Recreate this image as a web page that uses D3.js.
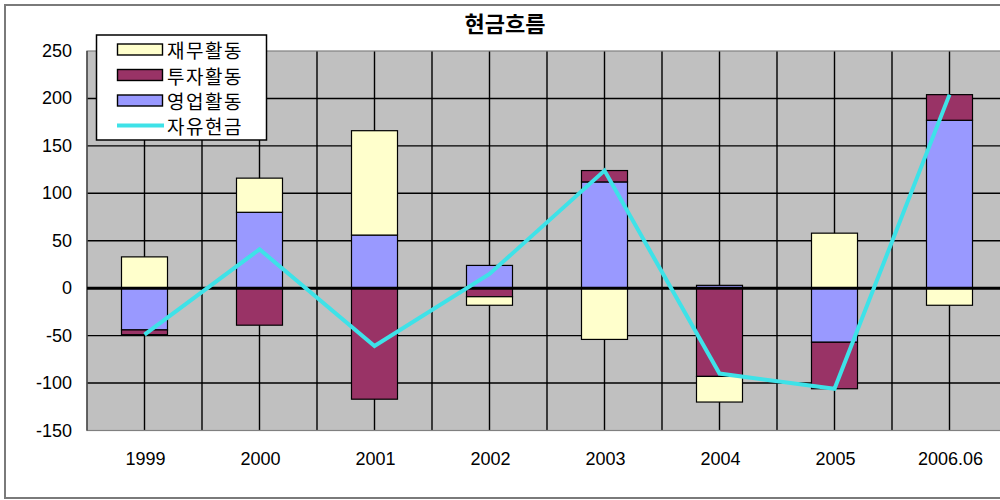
<!DOCTYPE html>
<html>
<head>
<meta charset="utf-8">
<script src="https://cdn.jsdelivr.net/npm/d3@7"></script>
<style>
  html, body { margin: 0; padding: 0; background: #fff; }
  svg { display: block; }
</style>
</head>
<body>
<svg id="chart" width="1000" height="500"></svg>
<script>
// Periods on the x axis
const categories = ["1999", "2000", "2001", "2002", "2003", "2004", "2005", "2006.06"];

// Cash flow components (stacked columns)
const operating = [-44, 80, 56, 24, 112, 3, -57, 177];   // 영업활동
const investing = [-5, -39, -117, -9, 12, -93, -49, 27]; // 투자활동
const financing = [33, 36, 110, -9, -54, -27, 58, -18];  // 재무활동

// Free cash flow (line)
const freeCash = [-49, 41, -61, 15, 124, -90, -106, 204]; // 자유현금

// Value axis ticks
const yTicks = [250, 200, 150, 100, 50, 0, -50, -100, -150];

const seriesNames = ["영업활동", "투자활동", "재무활동"];
const seriesValues = [operating, investing, financing];
const seriesColors = ["#9999ff", "#993366", "#ffffcc"];
const lineColor = "#3ee2e8";

const svg = d3.select("#chart");

// Chart frame
svg.append("rect")
  .attr("x", 5).attr("y", 5).attr("width", 1010).attr("height", 493)
  .attr("fill", "#fff").attr("stroke", "#7a7a7a").attr("stroke-width", 2);

const x = d3.scaleBand().domain(categories).range([87, 1007]).paddingInner(0).paddingOuter(0);
const y = d3.scaleLinear().domain([-150, 250]).range([430.5, 51]);

const plot = svg.append("g");

// Plot background
plot.append("rect")
  .attr("x", 87).attr("y", y(250))
  .attr("width", 1007 - 87).attr("height", y(-150) - y(250))
  .attr("fill", "#c0c0c0");

// Vertical gridlines at every half category
const halfSteps = d3.range(1, categories.length * 2);
plot.selectAll("line.vgrid").data(halfSteps).join("line")
  .attr("class", "vgrid")
  .attr("x1", d => 87 + d * x.bandwidth() / 2)
  .attr("x2", d => 87 + d * x.bandwidth() / 2)
  .attr("y1", y(250)).attr("y2", y(-150))
  .attr("stroke", "#000").attr("stroke-width", 1.4);

// Horizontal gridlines
plot.selectAll("line.hgrid").data(yTicks.filter(t => t !== 250 && t !== -150 && t !== 0)).join("line")
  .attr("class", "hgrid")
  .attr("x1", 87).attr("x2", 1007)
  .attr("y1", d => y(d)).attr("y2", d => y(d))
  .attr("stroke", "#000").attr("stroke-width", 1.4);

// Plot border
plot.append("rect")
  .attr("x", 87).attr("y", y(250))
  .attr("width", 1007 - 87).attr("height", y(-150) - y(250))
  .attr("fill", "none").attr("stroke", "#808080").attr("stroke-width", 1.2);

// Left axis line
plot.append("line")
  .attr("x1", 87).attr("x2", 87).attr("y1", y(250)).attr("y2", y(-150))
  .attr("stroke", "#333").attr("stroke-width", 1.2);

// Stack positives upward and negatives downward, in series order
const barW = x.bandwidth() * 0.4;
const segments = [];
categories.forEach((c, i) => {
  let pos = 0, neg = 0;
  seriesValues.forEach((vals, s) => {
    const v = vals[i];
    let y0, y1;
    if (v >= 0) { y0 = pos; y1 = pos + v; pos = y1; }
    else { y0 = neg; y1 = neg + v; neg = y1; }
    segments.push({ cat: c, s, y0, y1 });
  });
});

plot.selectAll("rect.seg").data(segments).join("rect")
  .attr("class", "seg")
  .attr("x", d => x(d.cat) + (x.bandwidth() - barW) / 2)
  .attr("width", barW)
  .attr("y", d => y(Math.max(d.y0, d.y1)))
  .attr("height", d => Math.abs(y(d.y0) - y(d.y1)))
  .attr("fill", d => seriesColors[d.s])
  .attr("stroke", "#000").attr("stroke-width", 1.2);

// Zero line
plot.append("line")
  .attr("x1", 87).attr("x2", 1007).attr("y1", y(0)).attr("y2", y(0))
  .attr("stroke", "#000").attr("stroke-width", 3);

// Free cash flow line
const line = d3.line()
  .x((d, i) => x(categories[i]) + x.bandwidth() / 2)
  .y(d => y(d));
plot.append("path")
  .datum(freeCash)
  .attr("d", line)
  .attr("fill", "none")
  .attr("stroke", lineColor).attr("stroke-width", 4)
  .attr("stroke-linejoin", "miter");

// Y axis labels
svg.append("g").selectAll("text").data(yTicks).join("text")
  .attr("x", 72).attr("y", d => y(d))
  .attr("text-anchor", "end").attr("dominant-baseline", "central")
  .attr("font-family", "Liberation Sans, Arial, sans-serif")
  .attr("font-size", 18).attr("fill", "#000")
  .text(d => d);

// X axis labels
svg.append("g").selectAll("text").data(categories).join("text")
  .attr("x", d => x(d) + x.bandwidth() / 2 + 1)
  .attr("y", 459)
  .attr("text-anchor", "middle").attr("dominant-baseline", "central")
  .attr("font-family", "Liberation Sans, Arial, sans-serif")
  .attr("font-size", 18).attr("fill", "#000")
  .text(d => d);

// Title
svg.append("text")
  .attr("x", 505).attr("y", 22)
  .attr("text-anchor", "middle").attr("dominant-baseline", "central")
  .attr("font-family", "Noto Sans CJK KR, sans-serif")
  .attr("font-weight", "bold").attr("font-size", 22)
  .text("현금흐름");

// Legend
const legend = svg.append("g");
legend.append("rect")
  .attr("x", 96.5).attr("y", 35).attr("width", 170).attr("height", 105)
  .attr("fill", "#fff").attr("stroke", "#000").attr("stroke-width", 1.5);

const legendItems = [
  { name: "재무활동", color: seriesColors[2], type: "box" },
  { name: "투자활동", color: seriesColors[1], type: "box" },
  { name: "영업활동", color: seriesColors[0], type: "box" },
  { name: "자유현금", color: lineColor, type: "line" }
];
const rowY = [49.5, 75, 100.5, 125.5];
legendItems.forEach((it, i) => {
  const cy = rowY[i];
  if (it.type === "box") {
    legend.append("rect")
      .attr("x", 117.5).attr("y", cy - 5.5).attr("width", 45).attr("height", 11)
      .attr("fill", it.color).attr("stroke", "#000").attr("stroke-width", 1.4);
  } else {
    legend.append("line")
      .attr("x1", 117).attr("x2", 164).attr("y1", cy).attr("y2", cy)
      .attr("stroke", it.color).attr("stroke-width", 4);
  }
  legend.append("text")
    .attr("x", 167).attr("y", cy)
    .attr("dominant-baseline", "central")
    .attr("font-family", "Noto Sans CJK KR, sans-serif")
    .attr("font-size", 19).attr("letter-spacing", 1.5)
    .text(it.name);
});
</script>
</body>
</html>
